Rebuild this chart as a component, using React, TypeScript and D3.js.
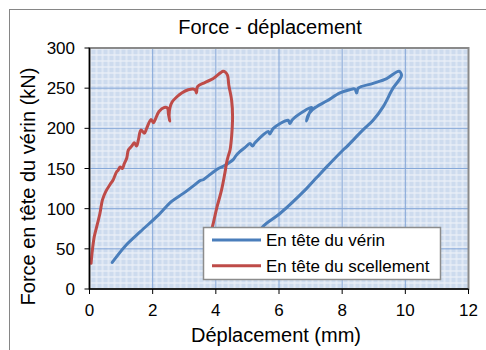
import React from "react";
import * as d3 from "d3";

const xTicks = [0, 2, 4, 6, 8, 10, 12];
const yTicks = [0, 50, 100, 150, 200, 250, 300];

// En tête du vérin (x = déplacement mm, y = force kN)
const verinX = [0.72, 1.12, 1.6, 2.18, 2.6, 2.97, 3.34, 3.5, 3.6, 3.7, 4.08, 4.29, 4.55, 4.64, 4.76, 4.92, 5.08, 5.16, 5.24, 5.66, 5.71, 5.82, 6.29, 6.34, 6.43, 6.77, 7.03, 6.95, 6.87, 6.92, 7.05, 7.19, 7.51, 7.93, 8.24, 8.4, 8.46, 8.51, 8.98, 9.41, 9.8, 9.88, 9.8, 9.61, 9.3, 8.98, 8.66, 8.14, 8.03, 7.51, 7.2, 6.87, 6.03, 5.5, 5.2];
const verinY = [33, 53, 71, 92, 109, 119, 130, 135, 136, 139, 150, 154, 161, 166, 171, 176, 181, 178, 182, 196, 193, 200, 210, 206, 211, 221, 226, 218, 209, 216, 223, 227, 234, 244, 248, 249, 244, 250, 256, 262, 271, 266, 260, 250, 227, 210, 198, 177, 173, 152, 139, 125, 94, 78, 60];

// En tête du scellement
const scelX = [0.05, 0.09, 0.15, 0.23, 0.33, 0.41, 0.51, 0.65, 0.75, 0.86, 0.91, 0.97, 1.04, 1.1, 1.18, 1.23, 1.34, 1.42, 1.49, 1.55, 1.63, 1.74, 1.81, 1.95, 2.02, 2.07, 2.2, 2.37, 2.47, 2.5, 2.54, 2.52, 2.55, 2.62, 2.76, 2.92, 3.13, 3.28, 3.36, 3.39, 3.42, 3.65, 3.92, 4.23, 4.3, 4.37, 4.41, 4.5, 4.53, 4.5, 4.45, 4.39, 4.34, 4.29, 4.18, 4.03, 3.92, 3.84, 3.75];
const scelY = [32, 48, 65, 78, 94, 111, 121, 130, 136, 146, 148, 152, 150, 156, 163, 173, 178, 182, 178, 186, 198, 194, 200, 211, 207, 210, 221, 226, 225, 218, 209, 216, 226, 233, 239, 244, 248, 249, 247, 244, 252, 257, 262, 271, 270, 266, 254, 235, 215, 190, 173, 165, 157, 145, 123, 101, 82, 69, 50];

const seriesNames = ["En tête du vérin", "En tête du scellement"];
const seriesColors = ["#4a7ebb", "#be4b48"];

const FONT = "'Liberation Sans', Arial, sans-serif";

export default function App() {
  const x = d3.scaleLinear().domain([0, 12]).range([89.5, 468.5]);
  const y = d3.scaleLinear().domain([0, 300]).range([289, 48]);
  const line = d3
    .line<[number, number]>()
    .x((d) => x(d[0]))
    .y((d) => y(d[1]))
    .curve(d3.curveCatmullRom.alpha(0.5));
  const verin = verinX.map((v, i) => [v, verinY[i]] as [number, number]);
  const scel = scelX.map((v, i) => [v, scelY[i]] as [number, number]);
  const [x0, x1] = x.range();
  const [y0, y1] = y.range();

  return (
    <svg
      width={486}
      height={350}
      style={{ position: "absolute", left: 0, top: 0, background: "#fff" }}
      fontFamily={FONT}
    >
      <defs>
        <pattern id="grid" width={6} height={6} patternUnits="userSpaceOnUse" x={x0} y={y1}>
          <rect width={6} height={6} fill="#cddbee" />
          <rect x={0} y={0} width={2} height={6} fill="#e0e8f4" />
          <rect x={0} y={0} width={6} height={2} fill="#e0e8f4" />
          <rect x={0.5} y={0.5} width={1} height={1} fill="#ffffff" />
        </pattern>
        <clipPath id="clip">
          <rect x={x0} y={y1} width={x1 - x0} height={y0 - y1} />
        </clipPath>
      </defs>
      <rect x={9.5} y={9.5} width={520} height={400} fill="#fff" stroke="#868686" strokeWidth={1} />
      <text x={270} y={34} textAnchor="middle" fontSize={20} fill="#000">
        Force - déplacement
      </text>
      <rect x={x0} y={y1} width={x1 - x0} height={y0 - y1} fill="url(#grid)" />
      {xTicks.slice(1, -1).map((t) => (
        <line key={"gx" + t} x1={x(t)} x2={x(t)} y1={y1} y2={y0} stroke="#86a8d8" strokeWidth={1} />
      ))}
      {yTicks.slice(1, -1).map((t) => (
        <line key={"gy" + t} x1={x0} x2={x1} y1={y(t)} y2={y(t)} stroke="#86a8d8" strokeWidth={1} />
      ))}
      <rect x={x0} y={y1} width={x1 - x0} height={y0 - y1} fill="none" stroke="#8a8a8a" strokeWidth={2} />
      <g clipPath="url(#clip)" fill="none" strokeWidth={3} strokeLinejoin="round" strokeLinecap="round">
        <path d={line(verin) || ""} stroke={seriesColors[0]} />
        <path d={line(scel) || ""} stroke={seriesColors[1]} />
      </g>
      <line x1={x0} x2={x0} y1={y1} y2={y0} stroke="#000" strokeWidth={1.5} />
      <line x1={x0} x2={x1} y1={y0} y2={y0} stroke="#000" strokeWidth={1.5} />
      {yTicks.map((t) => (
        <g key={"ty" + t}>
          <line x1={x0 - 5} x2={x0} y1={y(t)} y2={y(t)} stroke="#000" strokeWidth={1} />
          <text x={75} y={y(t) + 6} textAnchor="end" fontSize={17} fill="#000">
            {t}
          </text>
        </g>
      ))}
      {xTicks.map((t) => (
        <g key={"tx" + t}>
          <line x1={x(t)} x2={x(t)} y1={y0} y2={y0 + 5} stroke="#000" strokeWidth={1} />
          <text x={x(t)} y={316} textAnchor="middle" fontSize={17} fill="#000">
            {t}
          </text>
        </g>
      ))}
      <text x={276} y={342} textAnchor="middle" fontSize={20} fill="#000">
        Déplacement (mm)
      </text>
      <text
        transform={`translate(35,${(y0 + y1) / 2 + 18}) rotate(-90)`}
        textAnchor="middle"
        fontSize={20}
        fill="#000"
      >
        Force en tête du vérin (kN)
      </text>
      <rect x={203.5} y={227.5} width={237} height={52} fill="#fff" stroke="#8c8c8c" strokeWidth={1.5} />
      {seriesNames.map((n, i) => (
        <g key={n}>
          <line x1={212} x2={261} y1={240 + i * 25.7} y2={240 + i * 25.7} stroke={seriesColors[i]} strokeWidth={3} />
          <text x={266} y={246 + i * 25.7} fontSize={17} fill="#000">
            {n}
          </text>
        </g>
      ))}
    </svg>
  );
}
